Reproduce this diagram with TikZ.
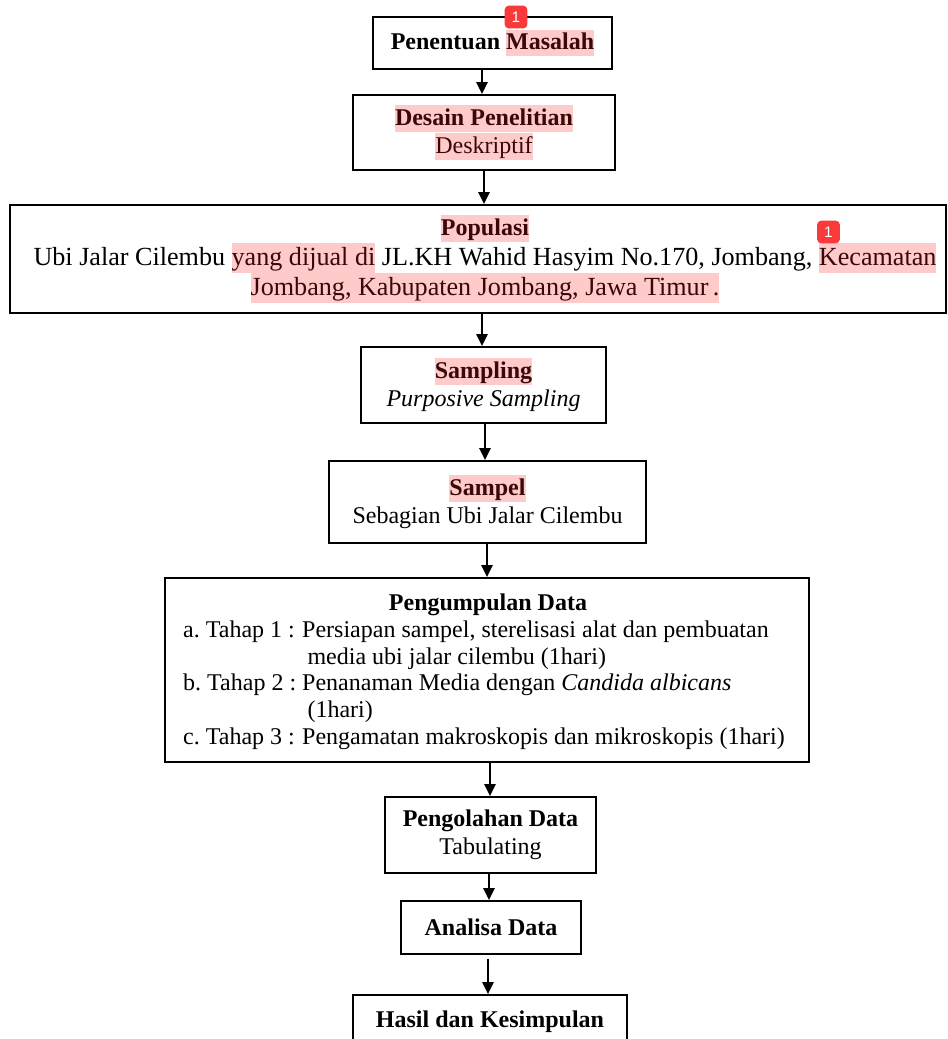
\documentclass[tikz,border=0pt]{standalone}
\usepackage{fontspec}
\setmainfont{Liberation Serif}
\newfontfamily\badgefont{Liberation Sans}
\usetikzlibrary{arrows.meta}
\definecolor{hlpink}{HTML}{FFCACA}
\definecolor{hltext}{HTML}{3A0808}
\definecolor{badgered}{HTML}{F83A3A}
\newcommand\hlx[1]{{\setlength{\fboxsep}{0pt}\colorbox{hlpink}{\rule[-0.28em]{0pt}{1.12em}\textcolor{hltext}{#1}}}}
\frenchspacing
\begin{document}
\begin{tikzpicture}[x=0.75pt,y=-0.75pt,
  every node/.style={font=\fontsize{18}{21}\selectfont},
  box/.style={draw, line width=1.4pt, inner sep=0pt, align=center},
  txt/.style={inner sep=0pt, align=center},
  arr/.style={-{Triangle[length=9pt,width=8.5pt]}, line width=1.3pt},
  badge/.style={fill=badgered, rounded corners=3pt, text=white, inner sep=0pt,
    minimum width=17pt, minimum height=17pt, font=\badgefont\fontsize{11.5}{12}\selectfont}]
\useasboundingbox (0,0) rectangle (948,1039);
\fill[white] (0,0) rectangle (948,1039);

\node[box, minimum width=179.25pt, minimum height=39pt] (b1) at (492.5,43)
  {\textbf{Penentuan \hlx{Masalah}}};
\node[box, minimum width=196.5pt, minimum height=56.25pt] (b2) at (484,132.5)
  {\hlx{\textbf{Desain Penelitian}}\\\hlx{Deskriptif}};
\node[box, minimum width=702pt, minimum height=81pt] (b3) at (478,259) {};
\node[txt, font=\fontsize{19.6}{22.5}\selectfont] (t3) at (485,259)
  {{\fontsize{18}{22.5}\selectfont\hlx{\textbf{Populasi}}}\\
   Ubi Jalar Cilembu \hlx{yang dijual di} JL.KH Wahid Hasyim No.170, Jombang, \hlx{Kecamatan}\\
   \hlx{Jombang, Kabupaten Jombang, Jawa Timur\,.}};
\node[box, minimum width=183.75pt, minimum height=57pt] (b4) at (483.5,385)
  {\hlx{\textbf{Sampling}}\\\textit{Purposive Sampling}};
\node[box, minimum width=237.75pt, minimum height=61.5pt] (b5) at (487.5,502)
  {\hlx{\textbf{Sampel}}\\Sebagian Ubi Jalar Cilembu};
\node[box, minimum width=483pt, minimum height=138pt] (b6) at (487,670) {};
\node[txt, font=\fontsize{18}{20}\selectfont] (t6) at (484,672)
  {\begin{tabular}{@{}l@{}l@{}}
   \multicolumn{2}{c}{\hspace{6pt}\textbf{Pengumpulan Data}}\\
   a. Tahap 1 :~ & Persiapan sampel, sterelisasi alat dan pembuatan\\
   & \hspace{4pt}media ubi jalar cilembu (1hari)\\
   b. Tahap 2 :~ & Penanaman Media dengan \textit{Candida albicans}\\
   & \hspace{4pt}(1hari)\\
   c. Tahap 3 :~ & Pengamatan makroskopis dan mikroskopis (1hari)
   \end{tabular}};
\node[box, minimum width=158.25pt, minimum height=57pt] (b7) at (490.5,835)
  {\textbf{Pengolahan Data}\\Tabulating};
\node[box, minimum width=135pt, minimum height=39.75pt] (b8) at (491,927.5)
  {\textbf{Analisa Data}};
\node[box, minimum width=205.5pt, minimum height=48.75pt] (b9) at (490,1027.5) {};
\node[txt] (t9) at (490,1022) {\textbf{Hasil dan Kesimpulan}};

\node[badge] (k1) at (516,17) {1};
\node[badge] (k2) at (828.5,232) {1};

\coordinate (x1) at (482,0);
\coordinate (x2) at (484,0);
\coordinate (x3) at (482,0);
\coordinate (x4) at (485,0);
\coordinate (x5) at (487,0);
\coordinate (x6) at (490,0);
\coordinate (x7) at (489,0);
\coordinate (x8) at (488,0);
\draw[arr] (b1.south -| x1) -- (b2.north -| x1);
\draw[arr] (b2.south -| x2) -- (b3.north -| x2);
\draw[arr] (b3.south -| x3) -- (b4.north -| x3);
\draw[arr] (b4.south -| x4) -- (b5.north -| x4);
\draw[arr] (b5.south -| x5) -- (b6.north -| x5);
\draw[arr] (b6.south -| x6) -- (b7.north -| x6);
\draw[arr] (b7.south -| x7) -- (b8.north -| x7);
\draw[arr] ([yshift=-3pt]b8.south -| x8) -- (b9.north -| x8);
\end{tikzpicture}
\end{document}
